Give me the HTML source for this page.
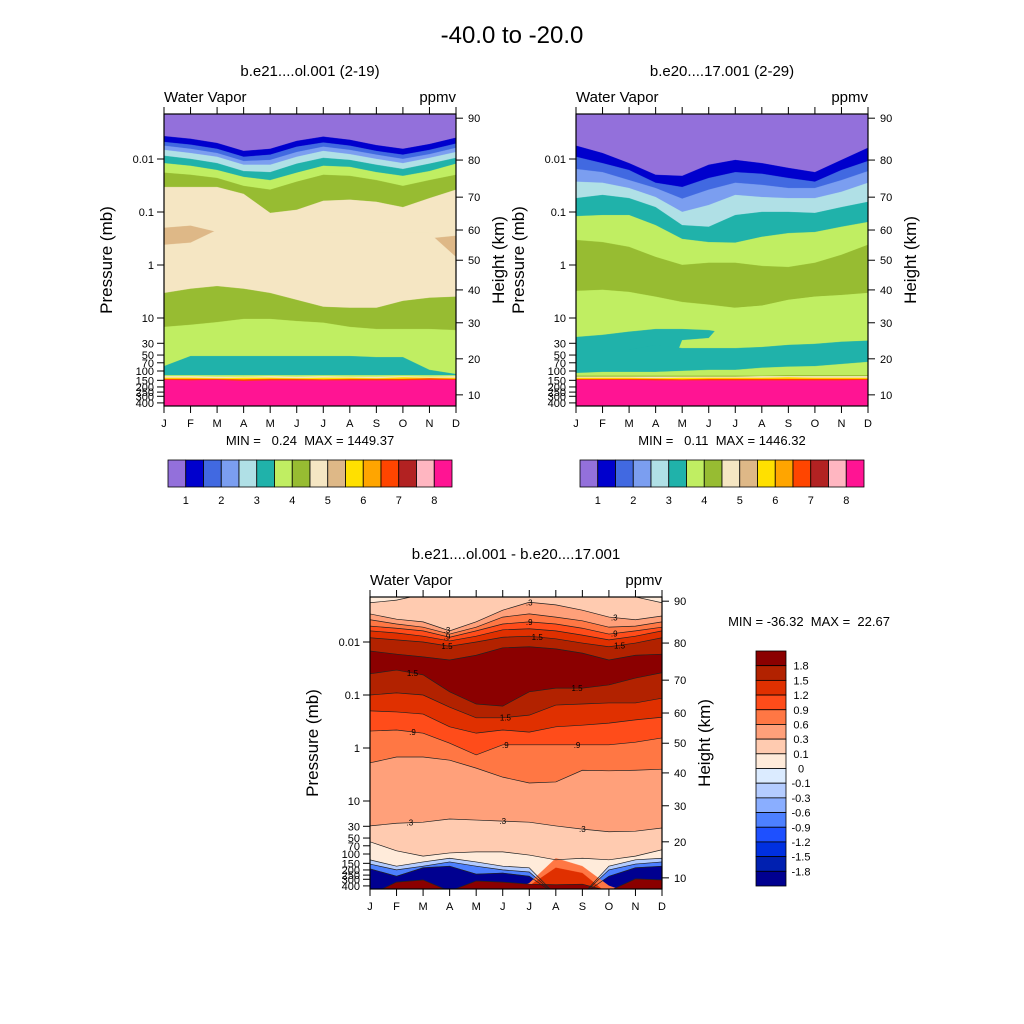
<!DOCTYPE html>
<html><head><meta charset="utf-8">
<style>
html,body{margin:0;padding:0;background:#fff;}
svg{display:block;font-family:"Liberation Sans",sans-serif;}
</style></head>
<body>
<svg id="fig" width="1024" height="1024" viewBox="0 0 1024 1024" xmlns="http://www.w3.org/2000/svg">
<text x="512" y="43" font-size="24" text-anchor="middle">-40.0 to -20.0</text>
</svg>
<script>
// ---------- data ----------
const months = ["J","F","M","A","M","J","J","A","S","O","N","D"];
const pressureTicks = [0.01,0.1,1,10,30,50,70,100,150,200,250,300,400];
const pressureTickLabels = ["0.01","0.1","1","10","30","50","70","100","150","200","250","300","400"];
const heightTicks = [90,80,70,60,50,40,30,20,10];
const heightTickLog10P = [-2.77,-1.98,-1.28,-0.66,-0.09,0.47,1.09,1.77,2.45];

// Panel 1 band tops (log10 pressure, mb) per month
const p1Purple = [-3,-3,-3,-3,-3,-3,-3,-3,-3,-3,-3,-3];
const p1DarkBlue = [-2.43,-2.38,-2.30,-2.15,-2.19,-2.34,-2.42,-2.36,-2.26,-2.19,-2.28,-2.40];
const p1RoyalBlue = [-2.32,-2.27,-2.19,-2.04,-2.08,-2.23,-2.31,-2.25,-2.15,-2.08,-2.17,-2.29];
const p1Cornflower = [-2.25,-2.19,-2.11,-1.96,-1.98,-2.13,-2.23,-2.17,-2.08,-2.00,-2.09,-2.21];
const p1LightBlue = [-2.17,-2.11,-2.04,-1.89,-1.89,-2.04,-2.15,-2.09,-2.00,-1.92,-2.02,-2.13];
const p1Teal = [-2.06,-2.00,-1.92,-1.77,-1.75,-1.91,-2.02,-1.98,-1.89,-1.81,-1.91,-2.02];
const p1LightGreen = [-1.92,-1.87,-1.79,-1.66,-1.60,-1.74,-1.87,-1.85,-1.75,-1.68,-1.77,-1.91];
const p1Olive = [-1.74,-1.70,-1.64,-1.49,-1.42,-1.57,-1.70,-1.68,-1.60,-1.49,-1.60,-1.70];
const p1Wheat = [-1.47,-1.47,-1.47,-1.34,-0.98,-1.04,-1.21,-1.23,-1.19,-1.09,-1.26,-1.42];
const p1Tan = [-0.70,-0.74,-0.62,-0.5,-0.5,-0.5,-0.5,-0.5,-0.5,-0.5,-0.5,-0.55];
const p1Wheat2 = [-0.38,-0.42,-0.66,-0.6,-0.6,-0.6,-0.6,-0.6,-0.6,-0.6,-0.6,-0.15];
const p1Olive2 = [0.53,0.45,0.40,0.45,0.53,0.66,0.79,0.81,0.81,0.68,0.62,0.60];
const p1LightGreen2 = [1.17,1.13,1.08,1.02,1.02,1.06,1.09,1.17,1.21,1.21,1.21,1.23];
const p1Teal2 = [1.91,1.72,1.72,1.72,1.72,1.72,1.72,1.72,1.74,1.74,1.98,2.06];
const p1LightGreen3 = [2.08,2.08,2.08,2.08,2.08,2.08,2.08,2.08,2.08,2.08,2.08,2.08];
const p1Wheat3 = [2.10,2.10,2.11,2.11,2.10,2.11,2.10,2.11,2.11,2.10,2.11,2.10];
const p1Gold = [2.13,2.13,2.14,2.13,2.13,2.14,2.13,2.13,2.14,2.12,2.13,2.13];
const p1OrangeRed = [2.15,2.15,2.15,2.16,2.15,2.15,2.16,2.15,2.15,2.15,2.14,2.15];
const p1Pink = [2.17,2.18,2.17,2.19,2.18,2.18,2.18,2.18,2.18,2.18,2.17,2.17];

// Panel 2 band tops
const p2Purple = [-3,-3,-3,-3,-3,-3,-3,-3,-3,-3,-3,-3];
const p2DarkBlue = [-2.25,-2.11,-1.92,-1.70,-1.68,-1.89,-1.98,-1.92,-1.83,-1.75,-1.98,-2.21];
const p2RoyalBlue = [-2.04,-1.92,-1.79,-1.55,-1.47,-1.64,-1.75,-1.72,-1.64,-1.57,-1.79,-1.96];
const p2Cornflower = [-1.81,-1.75,-1.60,-1.45,-1.25,-1.42,-1.55,-1.51,-1.45,-1.45,-1.60,-1.77];
const p2LightBlue = [-1.57,-1.55,-1.45,-1.28,-1.00,-1.13,-1.32,-1.28,-1.26,-1.26,-1.38,-1.55];
const p2Teal = [-1.26,-1.32,-1.26,-1.09,-0.75,-0.72,-0.94,-1.00,-1.00,-0.98,-1.09,-1.19];
const p2LightGreen = [-0.92,-0.94,-0.94,-0.75,-0.49,-0.43,-0.42,-0.53,-0.60,-0.62,-0.72,-0.81];
const p2Olive = [-0.47,-0.43,-0.34,-0.15,0.00,-0.04,-0.04,0.02,0.04,-0.04,-0.19,-0.38];
const p2LightGreen2 = [0.49,0.47,0.51,0.60,0.70,0.75,0.81,0.77,0.66,0.60,0.57,0.53];
const p2Teal2 = [1.36,1.32,1.26,1.21,1.21,1.23,1.32,1.32,1.32,1.32,1.32,1.32];
const p2LightGreen3 = [2.7,2.7,2.7,2.7,1.42,1.38,0.81,0.77,0.66,0.60,0.57,0.53];
const p2Teal3 = [1.60,1.60,1.60,1.51,1.57,1.57,1.57,1.55,1.51,1.49,1.45,1.43];
const p2LightGreen4 = [2.04,2.02,2.02,2.02,2.00,1.98,1.98,1.94,1.92,1.91,1.87,1.83];
const p2Olive3 = [2.09,2.09,2.09,2.09,2.09,2.09,2.09,2.09,2.08,2.08,2.08,2.08];
const p2Wheat = [2.11,2.11,2.11,2.11,2.11,2.11,2.11,2.10,2.10,2.10,2.10,2.10];
const p2Gold = [2.13,2.13,2.13,2.14,2.13,2.13,2.13,2.13,2.12,2.13,2.13,2.13];
const p2OrangeRed = [2.15,2.15,2.15,2.15,2.16,2.15,2.15,2.15,2.15,2.15,2.15,2.15];
const p2Pink = [2.17,2.17,2.17,2.18,2.18,2.18,2.18,2.18,2.18,2.18,2.18,2.17];

// Difference panel band tops
const dLevel00 = [-3,-3,-3,-3,-3,-3,-3,-3,-3,-3,-3,-3];
const dLevel01 = [-2.74,-2.79,-2.90,-2.90,-2.90,-2.90,-2.90,-2.90,-2.90,-2.90,-2.85,-2.74];
const dLevel03 = [-2.53,-2.43,-2.38,-2.21,-2.38,-2.60,-2.75,-2.70,-2.60,-2.47,-2.42,-2.49];
const dLevel06 = [-2.42,-2.34,-2.28,-2.15,-2.28,-2.47,-2.53,-2.47,-2.40,-2.28,-2.30,-2.38];
const dLevel09 = [-2.30,-2.26,-2.21,-2.09,-2.21,-2.34,-2.38,-2.34,-2.26,-2.15,-2.21,-2.28];
const dLevel12 = [-2.21,-2.17,-2.11,-2.02,-2.11,-2.23,-2.25,-2.21,-2.13,-2.04,-2.11,-2.21];
const dLevel15 = [-2.08,-2.04,-2.00,-1.92,-2.00,-2.09,-2.11,-2.06,-1.98,-1.91,-1.98,-2.08];
const dLevel18 = [-1.83,-1.77,-1.72,-1.66,-1.75,-1.89,-1.91,-1.87,-1.79,-1.66,-1.75,-1.77];
const dLevel18b = [-1.40,-1.47,-1.38,-1.06,-0.83,-0.79,-1.06,-1.13,-1.13,-1.19,-1.32,-1.42];
const dLevel15b = [-1.00,-1.04,-1.00,-0.77,-0.57,-0.57,-0.62,-0.81,-0.83,-0.85,-0.85,-0.94];
const dLevel12b = [-0.70,-0.68,-0.64,-0.40,-0.28,-0.34,-0.30,-0.40,-0.43,-0.47,-0.53,-0.58];
const dLevel09b = [-0.32,-0.34,-0.28,-0.09,0.13,-0.06,-0.06,-0.06,-0.06,-0.06,-0.11,-0.19];
const dLevel06b = [0.28,0.17,0.17,0.23,0.38,0.55,0.66,0.64,0.42,0.43,0.42,0.40];
const dLevel03b = [1.47,1.42,1.40,1.34,1.36,1.38,1.40,1.47,1.53,1.58,1.57,1.51];
const dLevel01b = [1.77,1.94,2.04,1.98,1.96,1.96,2.02,2.11,2.08,2.11,2.04,1.92];
const dLevelNeg01 = [2.11,2.23,2.15,2.08,2.15,2.23,2.26,2.77,2.77,2.23,2.11,2.08];
const dLevelNeg06 = [2.19,2.30,2.23,2.15,2.23,2.30,2.34,2.77,2.77,2.30,2.19,2.15];
const dLevelNeg18 = [2.28,2.42,2.26,2.23,2.38,2.36,2.42,2.77,2.77,2.42,2.26,2.23];
const dLevelPos06c = [2.77,2.77,2.77,2.77,2.77,2.77,2.55,2.08,2.23,2.6,2.77,2.77];
const dLevelPos12c = [2.77,2.77,2.77,2.77,2.77,2.77,2.6,2.26,2.36,2.77,2.77,2.77];
const dLevelPos18c = [2.77,2.53,2.49,2.70,2.51,2.53,2.57,2.58,2.57,2.70,2.47,2.49];

const colors1 = ["#9370DB","#0000CD","#4169E1","#7B9EF0","#B0E0E6","#20B2AA","#C0EE62","#97BC32","#F5E6C3","#DEB887","#FFE000","#FFA500","#FF4500","#B22222","#FFB6C1","#FF1493"];
const colorLabels1 = ["1","2","3","4","5","6","7","8"];
const colorsDiff = ["#8B0000","#B22200","#E03000","#FF4C1A","#FF7744","#FFA07A","#FFCBB0","#FFEBDA","#DBEBFF","#B4CCFF","#8AAEFF","#4D80FF","#1E50FF","#0030E0","#0020B0","#000090"];
const colorLabelsDiff = ["1.8","1.5","1.2","0.9","0.6","0.3","0.1","0","-0.1","-0.3","-0.6","-0.9","-1.2","-1.5","-1.8"];

// ---------- drawing ----------
const NS = "http://www.w3.org/2000/svg";
const svg = document.getElementById("fig");
function mk(tag, attrs, parent){
  const e = document.createElementNS(NS, tag);
  for (const k in attrs) e.setAttribute(k, attrs[k]);
  (parent||svg).appendChild(e);
  return e;
}
function txt(x,y,s,size,anchor,parent){
  const t = mk("text",{x:x,y:y,"font-size":size,"text-anchor":anchor||"middle",fill:"#000"},parent);
  t.textContent = s;
  return t;
}

function makePanel(id, x0, y0, W, H, y1mb, layers, outlineLevels){
  const dx = W/11;
  const xS = m => x0 + m*dx;
  const yS = lp => y1mb + 53*lp;
  const g = mk("g",{});
  
  
  const cp = mk("clipPath",{id:id+"-clip"},g);
  mk("rect",{x:x0,y:y0,width:W,height:H},cp);
  const plot = mk("g",{"clip-path":"url(#"+id+"-clip)"},g);
  
  
  layers.forEach((L,i)=>{
    let pts = L.top.map((v,m)=>xS(m).toFixed(2)+","+yS(v).toFixed(2));
    pts.push(xS(11)+","+(y0+H+5)); pts.push(xS(0)+","+(y0+H+5));
    const p = mk("polygon",{points:pts.join(" "),fill:L.color,stroke:L.color,"stroke-width":0.3},plot);
    
    
  });
  if (outlineLevels){
    outlineLevels.forEach((arr,i)=>{
      const pts = arr.map((v,m)=>xS(m).toFixed(2)+","+yS(v).toFixed(2)).join(" ");
      const l = mk("polyline",{points:pts,fill:"none",stroke:"#222","stroke-width":0.7},plot);
      
      
    });
  }
  const fr = mk("rect",{x:x0,y:y0,width:W,height:H,fill:"none",stroke:"#000","stroke-width":1.2},g);
  
  
  // month ticks
  months.forEach((mName,m)=>{
    mk("line",{x1:xS(m),x2:xS(m),y1:y0-7,y2:y0,stroke:"#000","stroke-width":1},g);
    mk("line",{x1:xS(m),x2:xS(m),y1:y0+H,y2:y0+H+7,stroke:"#000","stroke-width":1},g);
    const t = txt(xS(m), y0+H+21, mName, 11, "middle", g);
    
    
  });
  // pressure ticks
  pressureTicks.forEach((p,i)=>{
    const y = yS(Math.log10(p));
    mk("line",{x1:x0-7,x2:x0,y1:y,y2:y,stroke:"#000","stroke-width":1},g);
    const t = txt(x0-10, y+4, pressureTickLabels[i], 11, "end", g);
    
    
  });
  heightTicks.forEach((h,i)=>{
    const y = yS(heightTickLog10P[i]);
    mk("line",{x1:x0+W,x2:x0+W+7,y1:y,y2:y,stroke:"#000","stroke-width":1},g);
    const t = txt(x0+W+12, y+4, String(h), 11, "start", g);
    
    
  });
  const wv = txt(x0, y0-12, "Water Vapor", 15, "start", g);
  
  
  const un = txt(x0+W, y0-12, "ppmv", 15, "end", g);
  
  
  const yl = mk("text",{x:0,y:0,"font-size":17,"text-anchor":"middle",transform:"translate("+(x0-52)+","+(y0+H/2)+") rotate(-90)"},g);
  yl.textContent = "Pressure (mb)";
  
  
  const yr = mk("text",{x:0,y:0,"font-size":17,"text-anchor":"middle",transform:"translate("+(x0+W+48)+","+(y0+H/2)+") rotate(-90)"},g);
  yr.textContent = "Height (km)";
  
  
  return {xS, yS, g};
}

function hColorbar(id, x0, y0, W, H, cols, labels){
  const g = mk("g",{});
  
  
  const bw = W/cols.length;
  cols.forEach((c,i)=>{
    const r = mk("rect",{x:x0+i*bw,y:y0,width:bw,height:H,fill:c,stroke:"#000","stroke-width":0.8},g);
    
    
  });
  labels.forEach((s,k)=>{
    const t = txt(x0+(2*k+1)*bw, y0+H+17, s, 11, "middle", g);
    
    
  });
}

// Panel 1
const L1 = [
  {color:colors1[0],top:p1Purple},{color:colors1[1],top:p1DarkBlue},{color:colors1[2],top:p1RoyalBlue},
  {color:colors1[3],top:p1Cornflower},{color:colors1[4],top:p1LightBlue},{color:colors1[5],top:p1Teal},
  {color:colors1[6],top:p1LightGreen},{color:colors1[7],top:p1Olive},{color:colors1[8],top:p1Wheat},
  {color:colors1[9],top:p1Tan},{color:colors1[8],top:p1Wheat2},{color:colors1[7],top:p1Olive2},
  {color:colors1[6],top:p1LightGreen2},{color:colors1[5],top:p1Teal2},{color:colors1[6],top:p1LightGreen3},
  {color:colors1[8],top:p1Wheat3},{color:colors1[10],top:p1Gold},{color:colors1[12],top:p1OrangeRed},{color:colors1[15],top:p1Pink}
];
makePanel("left", 164, 114, 292, 292, 265, L1, null);
let t;
t = txt(310, 76, "b.e21....ol.001 (2-19)", 15);  
t = txt(310, 445, "MIN =   0.24  MAX = 1449.37", 13);  
t.setAttribute("xml:space","preserve"); t.style.whiteSpace="pre";
hColorbar("left-colorbar", 168, 460, 284, 27, colors1, colorLabels1);

// Panel 2
const L2 = [
  {color:colors1[0],top:p2Purple},{color:colors1[1],top:p2DarkBlue},{color:colors1[2],top:p2RoyalBlue},
  {color:colors1[3],top:p2Cornflower},{color:colors1[4],top:p2LightBlue},{color:colors1[5],top:p2Teal},
  {color:colors1[6],top:p2LightGreen},{color:colors1[7],top:p2Olive},{color:colors1[6],top:p2LightGreen2},
  {color:colors1[5],top:p2Teal2},{color:colors1[6],top:p2LightGreen3},{color:colors1[5],top:p2Teal3},
  {color:colors1[6],top:p2LightGreen4},{color:colors1[7],top:p2Olive3},{color:colors1[8],top:p2Wheat},
  {color:colors1[10],top:p2Gold},{color:colors1[12],top:p2OrangeRed},{color:colors1[15],top:p2Pink}
];
makePanel("right", 576, 114, 292, 292, 265, L2, null);
t = txt(722, 76, "b.e20....17.001 (2-29)", 15);  
t = txt(722, 445, "MIN =   0.11  MAX = 1446.32", 13);  
t.style.whiteSpace="pre";
hColorbar("right-colorbar", 580, 460, 284, 27, colors1, colorLabels1);

// Difference panel
const LD = [
  {color:colorsDiff[7],top:dLevel00},{color:colorsDiff[6],top:dLevel01},{color:colorsDiff[5],top:dLevel03},
  {color:colorsDiff[4],top:dLevel06},{color:colorsDiff[3],top:dLevel09},{color:colorsDiff[2],top:dLevel12},
  {color:colorsDiff[1],top:dLevel15},{color:colorsDiff[0],top:dLevel18},{color:colorsDiff[1],top:dLevel18b},
  {color:colorsDiff[2],top:dLevel15b},{color:colorsDiff[3],top:dLevel12b},{color:colorsDiff[4],top:dLevel09b},
  {color:colorsDiff[5],top:dLevel06b},{color:colorsDiff[6],top:dLevel03b},{color:colorsDiff[7],top:dLevel01b},
  {color:colorsDiff[9],top:dLevelNeg01},{color:colorsDiff[11],top:dLevelNeg06},{color:colorsDiff[15],top:dLevelNeg18},
  {color:colorsDiff[4],top:dLevelPos06c},{color:colorsDiff[2],top:dLevelPos12c},{color:colorsDiff[0],top:dLevelPos18c}
];
const outlines = [dLevel01,dLevel03,dLevel06,dLevel09,dLevel12,dLevel15,dLevel18,dLevel18b,dLevel15b,dLevel12b,dLevel09b,dLevel06b,dLevel03b,dLevel01b,dLevelNeg01,dLevelNeg06,dLevelNeg18,dLevelPos18c];
const pd = makePanel("diff", 370, 597, 292, 292, 748, LD, outlines);
t = txt(516, 559, "b.e21....ol.001 - b.e20....17.001", 15);  
t = txt(809, 626, "MIN = -36.32  MAX =  22.67", 13);  
t.style.whiteSpace="pre";
// contour labels
const contourLabelMonths = [2.9,6.0,9.2,2.9,6.0,9.2,2.9,6.3,9.4,1.6,5.1,7.8,1.6,5.1,7.8,1.5,5.0,8.0];
const contourLabelArrays = [dLevel03,dLevel03,dLevel03,dLevel09,dLevel09,dLevel09,dLevel15,dLevel15,dLevel15,dLevel18b,dLevel15b,dLevel18b,dLevel09b,dLevel09b,dLevel09b,dLevel03b,dLevel03b,dLevel03b];
const contourLabelText = [".3",".3",".3",".9",".9",".9","1.5","1.5","1.5","1.5","1.5","1.5",".9",".9",".9",".3",".3",".3"];
contourLabelMonths.forEach((m,i)=>{
  const arr = contourLabelArrays[i];
  const mi = Math.floor(m), f = m-mi;
  const v = arr[mi] + (arr[Math.min(mi+1,11)]-arr[mi])*f;
  const lbl = txt(pd.xS(m), pd.yS(v)+3, contourLabelText[i], 8, "middle");
  
  
});
// vertical colorbar
(function(){
  const g = mk("g",{});
  
  
  const x0 = 756, y0 = 651, W = 30, H = 235, bh = H/colorsDiff.length;
  colorsDiff.forEach((c,i)=>{
    const r = mk("rect",{x:x0,y:y0+i*bh,width:W,height:bh,fill:c,stroke:"#000","stroke-width":0.8},g);
    
    
  });
  colorLabelsDiff.forEach((s,k)=>{
    const lb = txt(x0+W+15, y0+(k+1)*bh+4, s, 11, "middle", g);
    
    
  });
})();
</script>
</body></html>
